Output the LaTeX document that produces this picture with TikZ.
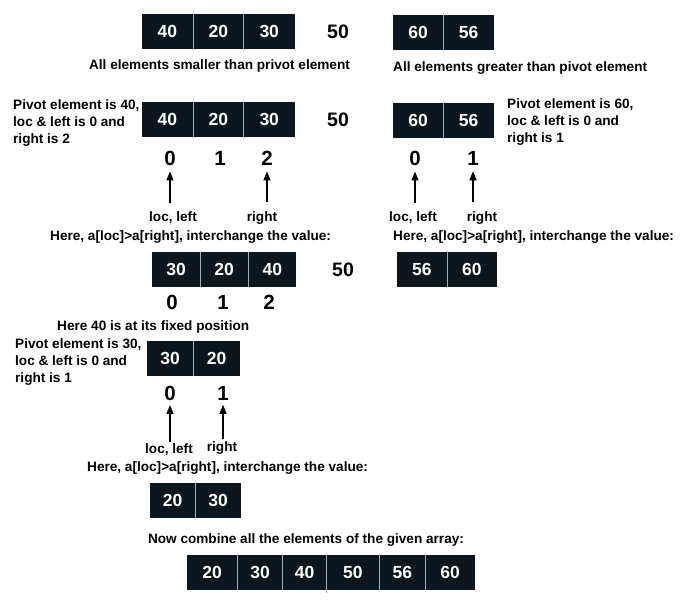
\documentclass[tikz,border=0pt]{standalone}
\usepackage{fontspec}
\setmainfont{Liberation Sans}
\usepackage{tikz}
\usetikzlibrary{arrows.meta,positioning}
\definecolor{cellbg}{RGB}{11,22,30}
\definecolor{divgray}{RGB}{170,170,170}
\tikzstyle{cell} = [fill=cellbg, text=white, minimum height=35pt, inner sep=0pt, anchor=west, font=\bfseries\fontsize{17.5}{17}\selectfont]
\tikzstyle{divider} = [draw=divgray, line width=0.8pt]
\tikzstyle{note} = [inner sep=0pt, align=left, font=\bfseries\fontsize{13.6}{17}\selectfont]
\tikzstyle{idx} = [inner sep=0pt, font=\bfseries\fontsize{20.5}{20}\selectfont]
\tikzstyle{pivot} = [inner sep=0pt, font=\bfseries\fontsize{19.5}{19}\selectfont]
\tikzstyle{pointer} = [-{Triangle[length=9pt,width=7pt]}, line width=1.3pt]

\begin{document}
\begin{tikzpicture}[x=1pt,y=-1pt]
	\useasboundingbox (0,0) rectangle (699,600);
	% row 1
	\node[cell, minimum width=50.5pt] (aa) at (142,31.5) {40};
	\node[cell, minimum width=50.5pt, right=0pt of aa] (ab) {20};
	\node[cell, minimum width=50.5pt, right=0pt of ab] (ac) {30};
	\node[pivot] (ap) at (338,32) {50};
	\node[cell, minimum width=50pt] (ad) at (393,32) {60};
	\node[cell, minimum width=50pt, right=0pt of ad] (ae) {56};
	\draw[divider] (aa.north east) -- (aa.south east);
	\draw[divider] (ab.north east) -- (ab.south east);
	\draw[divider] (ad.north east) -- (ad.south east);
	\node[note] (asmall) at (219.5,66) {All elements smaller than privot element};
	\node[note, anchor=west] (agreat) at (393,68) {All elements greater than pivot element};
	% row 2
	\node[note, anchor=west] (bnote) at (13,123) {Pivot element is 40,\\loc \& left is 0 and\\right is 2};
	\node[cell, minimum width=50.5pt] (ba) at (142,119.5) {40};
	\node[cell, minimum width=50.5pt, right=0pt of ba] (bb) {20};
	\node[cell, minimum width=50.5pt, right=0pt of bb] (bc) {30};
	\node[pivot] (bp) at (338,120) {50};
	\node[cell, minimum width=50pt] (bd) at (393,120.5) {60};
	\node[cell, minimum width=50pt, right=0pt of bd] (be) {56};
	\draw[divider] (ba.north east) -- (ba.south east);
	\draw[divider] (bb.north east) -- (bb.south east);
	\draw[divider] (bd.north east) -- (bd.south east);
	\node[note, anchor=west] (bnoter) at (507,122) {Pivot element is 60,\\loc \& left is 0 and\\right is 1};
	\node[idx] (bi0) at (170,158) {0};
	\node[idx] (bi1) at (220,158) {1};
	\node[idx] (bi2) at (267,158) {2};
	\node[idx] (bj0) at (415,158) {0};
	\node[idx] (bj1) at (473,158) {1};
	\node[note] (bloc) at (173,218) {loc, left};
	\node[note] (bright) at (262,218) {right};
	\node[note] (bjloc) at (413,218) {loc, left};
	\node[note] (bjright) at (482,218) {right};
	\draw[pointer, shorten <=9pt, shorten >=6pt] (bi0 |- bloc.north) -- (bi0.south);
	\draw[pointer, shorten <=9pt, shorten >=6pt] (bi2 |- bright.north) -- (bi2.south);
	\draw[pointer, shorten <=9pt, shorten >=6pt] (bj0 |- bjloc.north) -- (bj0.south);
	\draw[pointer, shorten <=9pt, shorten >=6pt] (bj1 |- bjright.north) -- (bj1.south);
	\node[note, anchor=west] (bswap) at (50,237) {Here, a[loc]>a[right], interchange the value:};
	\node[note, anchor=west] (bswapr) at (393,237) {Here, a[loc]>a[right], interchange the value:};
	% row 3
	\node[cell, minimum width=47.7pt] (ca) at (152,269.5) {30};
	\node[cell, minimum width=47.7pt, right=0pt of ca] (cb) {20};
	\node[cell, minimum width=47.7pt, right=0pt of cb] (cc) {40};
	\node[pivot] (cp) at (343,270) {50};
	\node[cell, minimum width=49.5pt] (cd) at (397,269) {56};
	\node[cell, minimum width=49.5pt, right=0pt of cd] (ce) {60};
	\draw[divider] (ca.north east) -- (ca.south east);
	\draw[divider] (cb.north east) -- (cb.south east);
	\draw[divider] (cd.north east) -- (cd.south east);
	\node[idx] (ci0) at (172,302) {0};
	\node[idx] (ci1) at (223,302) {1};
	\node[idx] (ci2) at (269,302) {2};
	\node[note, anchor=west] (cfixed) at (57,327) {Here 40 is at its fixed position};
	% row 4
	\node[note, anchor=west] (dnote) at (15,362) {Pivot element is 30,\\loc \& left is 0 and\\right is 1};
	\node[cell, minimum width=46pt] (da) at (147,358.5) {30};
	\node[cell, minimum width=46pt, right=0pt of da] (db) {20};
	\draw[divider] (da.north east) -- (da.south east);
	\node[idx] (di0) at (170,393) {0};
	\node[idx] (di1) at (223,393) {1};
	\node[note] (dloc) at (169,450) {loc, left};
	\node[note] (dright) at (222,448) {right};
	\draw[pointer, shorten <=2pt, shorten >=4.5pt] (di0 |- dloc.north) -- (di0.south);
	\draw[pointer, shorten <=2pt, shorten >=4.5pt] (di1 |- dright.north) -- (di1.south);
	\node[note, anchor=west] (dswap) at (87,468) {Here, a[loc]>a[right], interchange the value:};
	% row 5
	\node[cell, minimum width=45pt] (ea) at (150,500.5) {20};
	\node[cell, minimum width=45pt, right=0pt of ea] (eb) {30};
	\draw[divider] (ea.north east) -- (ea.south east);
	\node[note] (fcomb) at (306,540) {Now combine all the elements of the given array:};
	% row 6
	\node[cell, minimum width=50pt] (fa) at (187,572) {20};
	\node[cell, minimum width=45pt, right=0pt of fa] (fb) {30};
	\node[cell, minimum width=43pt, right=0pt of fb] (fc) {40};
	\node[cell, minimum width=53pt, right=0pt of fc] (fd) {50};
	\node[cell, minimum width=45pt, right=0pt of fd] (fe) {56};
	\node[cell, minimum width=50pt, right=0pt of fe] (ff) {60};
	\draw[divider] (fa.north east) -- (fa.south east);
	\draw[divider] (fb.north east) -- (fb.south east);
	\draw[divider] (fc.north east) -- ([yshift=-3pt]fc.south east);
	\draw[divider] (fd.north east) -- (fd.south east);
	\draw[divider] (fe.north east) -- (fe.south east);
\end{tikzpicture}
\end{document}
